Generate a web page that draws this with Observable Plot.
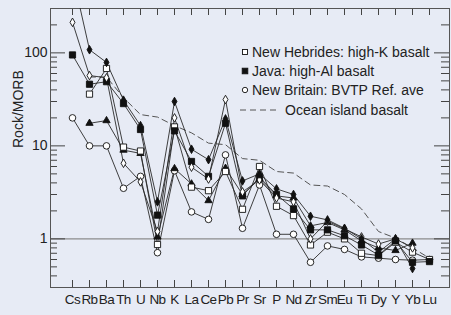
<!DOCTYPE html>
<html><head><meta charset="utf-8">
<script src="https://cdn.jsdelivr.net/npm/d3@7"></script>
<script src="https://cdn.jsdelivr.net/npm/@observablehq/plot@0.6"></script>
<style>
html,body{margin:0;padding:0;background:#e7ebf5;}
#wrap{position:relative;width:451px;height:315px;}
#chart svg{display:block;background:linear-gradient(to right,#e7ebf5 0,#e7ebf5 8px,#ffffff 8px);}
#chart svg g[aria-label="x-axis tick label"] text{letter-spacing:-0.5px;}
#legend{position:absolute;left:238px;top:42px;font:14px "Liberation Sans",Arial,sans-serif;color:#222;}
#legend .row{display:flex;align-items:center;height:19.3px;white-space:nowrap;}
#legend svg{display:block;flex:none;}
</style></head>
<body><div id="wrap"><div id="chart"></div><div id="legend"></div></div>
<script>
// Elements (x categories)
const elements = ["Cs","Rb","Ba","Th","U","Nb","K","La","Ce","Pb","Pr","Sr","P","Nd","Zr","Sm","Eu","Ti","Dy","Y","Yb","Lu"];

// Series values (Rock/MORB), null = no point
const newHebrides   = [null, 36, 68, 9.7, 8.8, 0.87, 16, 3.6, 3.3, 5.3, 2.08, 6.0, 2.24, 1.78, 0.86, 1.18, 1.0, 0.70, 0.66, 0.92, 0.72, 0.60];
const java          = [95, 46, 49, 28.5, 15, 1.8, 14.5, 6.8, 4.7, 17.5, 2.9, 4.6, 3.0, 2.1, 1.25, 1.25, 1.08, 0.86, 0.67, 0.95, 0.56, 0.57];
const newBritain    = [20, 10, 10, 3.5, 4.7, 0.71, 5.4, 1.95, 1.62, 8.0, 1.3, 3.8, 1.12, 1.12, 0.56, 0.84, 0.77, 0.64, 0.62, 0.60, 0.59, 0.60];
const openDiamond   = [213, 57, 54, 6.5, 4.1, 1.2, 20, 5.9, 4.4, 31.5, 3.2, 4.3, 2.75, 2.5, 1.0, 1.55, 1.28, 1.05, 0.88, 1.0, 0.80, null];
const filledDiamond = [700, 108, 79, 31, 16.5, 2.5, 30, 9.2, 7.1, 19.5, 4.2, 5.0, 3.45, 3.0, 1.75, 1.6, 1.3, 1.0, 0.72, 1.0, 0.48, null];
const filledTriangle= [null, 17.5, 18.7, 9.0, 8.3, 1.05, 5.7, 3.9, 2.58, 5.75, 3.0, 4.4, 2.9, 2.75, 1.38, 1.5, 1.25, 0.95, 0.80, 0.75, 0.90, null];
const oceanIsland   = [null, 55, 55, 33, 21.7, 20.4, 16.5, 13.8, 10.7, 10.3, 7.3, 7.0, 5.3, 5.1, 3.8, 3.7, 3.0, 2.1, 1.2, 1.02, 0.8, 0.62];

// Tick values / labels
const majorTicks = [1, 10, 100];
const minorTicks = [0.4,0.5,0.6,0.7,0.8,0.9, 2,3,4,5,6,7,8,9, 20,30,40,50,60,70,80,90, 200];
const yLabel = ["Rock/MORB"];
const legendLabels = ["New Hebrides: high-K basalt", "Java: high-Al basalt", "New Britain: BVTP Ref. ave", "Ocean island basalt"];

function rows(values) {
  return elements.map((e, i) => ({element: e, value: values[i]})).filter(d => d.value != null);
}

const lineStyle = {x: "element", y: "value", stroke: "#2a2a2a", strokeWidth: 0.9, clip: true};
const dotBase = {x: "element", y: "value", stroke: "#111", strokeWidth: 0.9, clip: true};

const solidSeries = [openDiamond, filledDiamond, newHebrides, java, newBritain, filledTriangle];

const chart = Plot.plot({
  width: 451, height: 309,
  marginLeft: 50, marginRight: 2, marginTop: 8, marginBottom: 22,
  style: {fontFamily: '"Liberation Sans", Arial, sans-serif', fontSize: "14px", color: "#222", background: "transparent"},
  x: {type: "point", domain: elements, range: [68, 433], padding: 0, label: null},
  y: {type: "log", domain: [0.3, 300], label: null},
  marks: [
    Plot.ruleY(majorTicks.filter(d => d === 1), {stroke: "#8c8c8c", strokeWidth: 1.4}),
    // left / right ticks
    Plot.ruleY(majorTicks, {stroke: "#444", insetRight: 384}),
    Plot.ruleY(majorTicks, {stroke: "#444", insetLeft: 384}),
    Plot.ruleY(minorTicks, {stroke: "#444", insetRight: 392}),
    Plot.ruleY(minorTicks, {stroke: "#444", insetLeft: 391}),
    // top / bottom ticks
    Plot.ruleX(elements, {stroke: "#444", insetBottom: 272}),
    Plot.ruleX(elements, {stroke: "#444", insetTop: 272}),
    Plot.frame({stroke: "#555", strokeWidth: 1}),
    Plot.axisY(majorTicks, {anchor: "left", tickSize: 0, tickPadding: 3, tickFormat: d => String(d), label: null, fontSize: 14}),
    Plot.axisX({anchor: "bottom", tickSize: 0, tickPadding: 7, label: null, fontSize: 13.5}),
    Plot.text(yLabel, {text: d => d, frameAnchor: "left", rotate: -90, dx: -32, fontSize: 14, lineAnchor: "middle", fill: "#222"}),
    // OIB dashed
    Plot.line(rows(oceanIsland), {x: "element", y: "value", stroke: "#555", strokeWidth: 1, strokeDasharray: "6,4", clip: true}),
    // series lines
    ...solidSeries.map(s => Plot.line(rows(s), lineStyle)),
    // markers
    Plot.dot(rows(newBritain), {...dotBase, symbol: "circle", r: 3.3, fill: "white"}),
    Plot.dot(rows(filledTriangle), {...dotBase, symbol: "triangle", r: 2.7, fill: "#111"}),
    Plot.dot(rows(newHebrides), {...dotBase, symbol: "square", r: 3.5, fill: "white"}),
    Plot.dot(rows(java), {...dotBase, symbol: "square", r: 3.5, fill: "#111"}),
    Plot.dot(rows(openDiamond), {...dotBase, symbol: "diamond", r: 2.6, fill: "white"}),
    Plot.dot(rows(filledDiamond), {...dotBase, symbol: "diamond", r: 2.6, fill: "#111"})
  ]
});
document.getElementById("chart").appendChild(chart);

// Legend (overlay inside plot area)
const icons = [
  '<svg width="14" height="10"><rect x="4.5" y="2.5" width="5" height="5" fill="white" stroke="#111" stroke-width="0.9"/></svg>',
  '<svg width="14" height="10"><rect x="4.2" y="2.2" width="5.6" height="5.6" fill="#111" stroke="#111" stroke-width="0.9"/></svg>',
  '<svg width="14" height="10"><circle cx="7" cy="5" r="2.7" fill="white" stroke="#111" stroke-width="0.9"/></svg>',
  '<svg width="47" height="10"><line x1="2" y1="5" x2="42" y2="5" stroke="#555" stroke-width="1" stroke-dasharray="6,4"/></svg>'
];
const legend = document.getElementById("legend");
legendLabels.forEach((lab, i) => {
  const row = document.createElement("div");
  row.className = "row";
  row.innerHTML = icons[i];
  const span = document.createElement("span");
  span.textContent = lab;
  row.appendChild(span);
  legend.appendChild(row);
});
</script>
</body></html>
